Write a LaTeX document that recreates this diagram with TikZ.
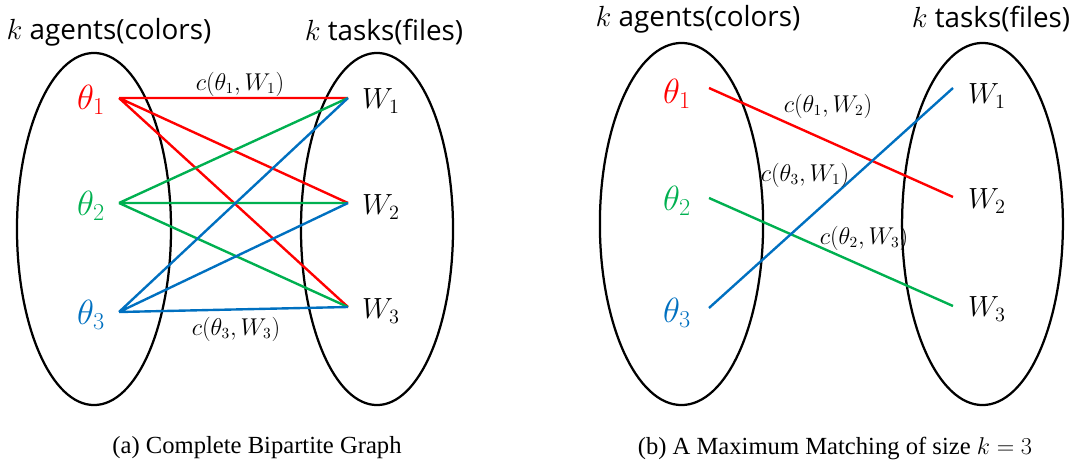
\documentclass[tikz,border=0pt]{standalone}
\usepackage{fontspec}
\setmainfont{Liberation Serif}
\newfontfamily\titlefont{Open Sans}
\definecolor{cred}{RGB}{255,0,0}
\definecolor{cgreen}{RGB}{0,176,80}
\definecolor{cblue}{RGB}{0,112,192}
\begin{document}
\begin{tikzpicture}[x=0.025cm,y=-0.025cm,
  title/.style={font=\titlefont\fontsize{19.8}{24}\selectfont, inner sep=0pt},
  agent/.style={font=\fontsize{23}{27}\selectfont, inner sep=0pt},
  task/.style={font=\fontsize{21}{25}\selectfont, inner sep=0pt},
  cost/.style={font=\fontsize{16}{19}\selectfont, inner sep=0pt},
  captext/.style={font=\fontsize{17.5}{21}\selectfont, inner sep=0pt},
  set/.style={line width=1.6pt, black},
  edge/.style={line width=1.7pt}]
\useasboundingbox (0,0) rectangle (1081,467);
% ---------------- panel (a) ----------------
\node[title] (ta1) at (109,32) {$k$ agents(colors)};
\node[title] (tt1) at (384,32) {$k$ tasks(files)};
\draw[set] (94,229) ellipse [x radius=1.925cm, y radius=4.4cm];
\draw[set] (377,229) ellipse [x radius=1.9cm, y radius=4.4cm];
\node[agent, cred] (A1) at (91,100) {$\theta_1$};
\node[agent, cgreen] (A2) at (91,206) {$\theta_2$};
\node[agent, cblue] (A3) at (91,315) {$\theta_3$};
\node[task] (B1) at (381,101) {$W_1$};
\node[task] (B2) at (381,207) {$W_2$};
\node[task] (B3) at (381,311) {$W_3$};
\coordinate (a1) at (119,98);
\coordinate (a2) at (119,203);
\coordinate (a3) at (119,312);
\coordinate (b1) at (348,98);
\coordinate (b2) at (348,203);
\coordinate (b3) at (348,307);
\draw[edge, cred] (a1) -- (b1) (a1) -- (b2) (a1) -- (b3);
\draw[edge, cgreen] (a2) -- (b1) (a2) -- (b2) (a2) -- (b3);
\draw[edge, cblue] (a3) -- (b1) (a3) -- (b2) (a3) -- (b3);
\node[cost] (c11) at (240,84) {$c(\theta_1,W_1)$};
\node[cost] (c33) at (236,329) {$c(\theta_3,W_3)$};
\node[captext] (capa) at (257,448) {(a) Complete Bipartite Graph};
% ---------------- panel (b) ----------------
\node[title] (ta2) at (698,19) {$k$ agents(colors)};
\node[title] (tt2) at (991,19) {$k$ tasks(files)};
\draw[set] (681.5,224) ellipse [x radius=2.04cm, y radius=4.525cm];
\draw[set] (982.5,224) ellipse [x radius=2.01cm, y radius=4.525cm];
\node[agent, cred] (P1) at (677,94) {$\theta_1$};
\node[agent, cgreen] (P2) at (677,201) {$\theta_2$};
\node[agent, cblue] (P3) at (677,313) {$\theta_3$};
\node[task] (Q1) at (987,96) {$W_1$};
\node[task] (Q2) at (987,201) {$W_2$};
\node[task] (Q3) at (987,309) {$W_3$};
\coordinate (p1) at (709,88);
\coordinate (p2) at (709,198);
\coordinate (p3) at (709,308);
\coordinate (q1) at (953,88);
\coordinate (q2) at (953,197);
\coordinate (q3) at (953,306);
\draw[edge, cred] (p1) -- (q2);
\draw[edge, cgreen] (p2) -- (q3);
\draw[edge, cblue] (p3) -- (q1);
\node[cost] (c12) at (828,106) {$c(\theta_1,W_2)$};
\node[cost] (c31) at (805,175) {$c(\theta_3,W_1)$};
\node[cost] (c23) at (864,238) {$c(\theta_2,W_3)$};
\node[captext] (capb) at (835,448) {(b) A Maximum Matching of size $k=3$};
\end{tikzpicture}
\end{document}
